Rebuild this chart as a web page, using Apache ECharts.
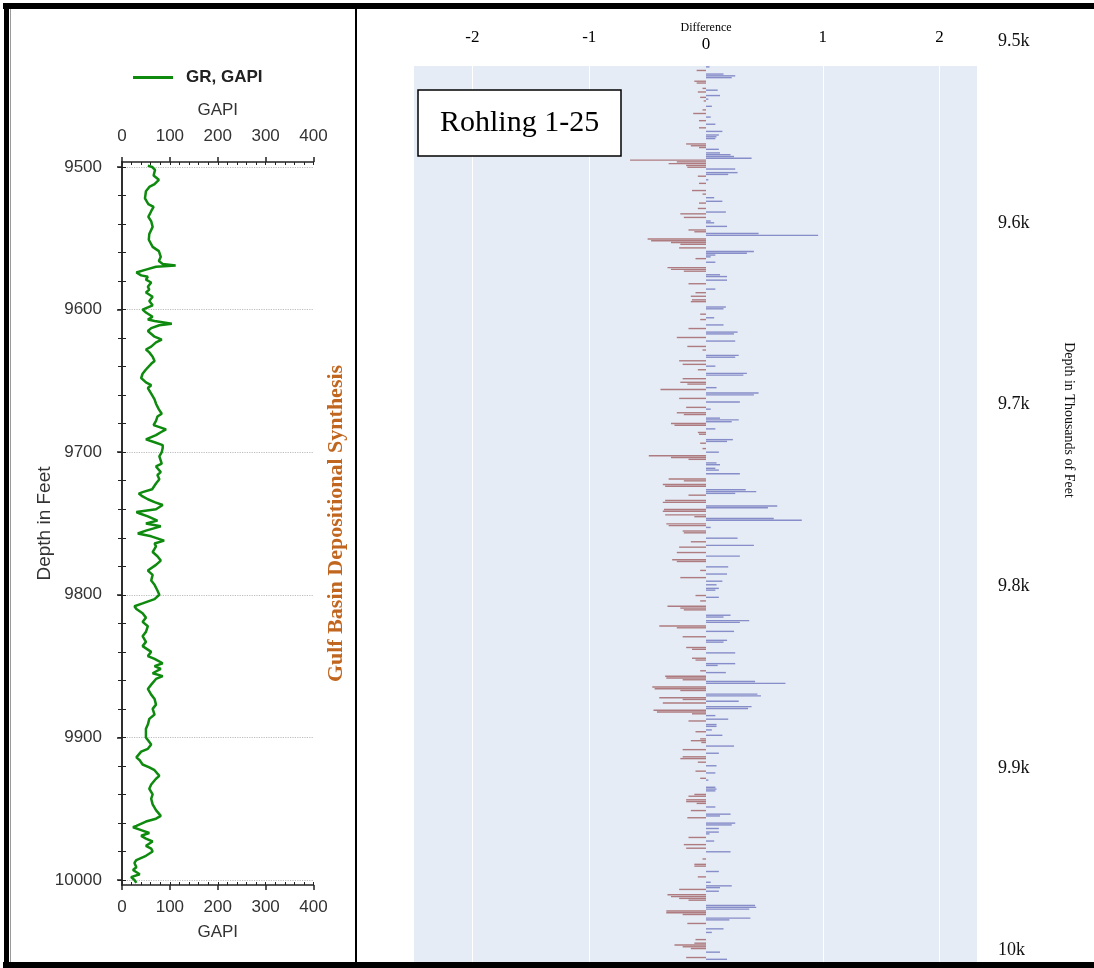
<!DOCTYPE html>
<html><head><meta charset="utf-8">
<script src="https://cdn.jsdelivr.net/npm/echarts@6/dist/echarts.min.js"></script>
<style>html,body{margin:0;padding:0;background:#fff}#c{width:1094px;height:968px}</style>
</head><body><div id="c"></div>
<script>
// ---------- GR log (left panel) ----------
const grDepth = [
 9499,9500,9502,9506,9509,9512,9514,9517,9522,9526,
 9528,9531,9535,9538,9542,9547,9551,9556,9559,9563,
 9566,9568,9569,9570,9572,9574,9576,9577,9579,9581,
 9584,9586,9588,9591,9594,9597,9600,9602,9605,9607,
 9608,9610,9611,9613,9615,9616,9619,9621,9623,9626,
 9628,9630,9633,9636,9638,9642,9645,9648,9651,9653,
 9655,9659,9663,9666,9670,9673,9675,9678,9681,9684,
 9686,9688,9691,9693,9695,9697,9700,9703,9708,9710,
 9714,9716,9719,9722,9726,9728,9729,9731,9733,9735,
 9737,9740,9742,9743,9745,9748,9750,9752,9755,9757,
 9759,9762,9764,9766,9770,9773,9776,9779,9783,9786,
 9790,9793,9797,9800,9803,9806,9808,9810,9813,9816,
 9819,9822,9826,9829,9833,9836,9840,9843,9845,9848,
 9850,9852,9855,9857,9859,9863,9866,9870,9873,9877,
 9880,9884,9887,9891,9894,9898,9900,9905,9908,9910,
 9914,9916,9919,9921,9923,9927,9929,9933,9936,9940,
 9943,9947,9951,9955,9957,9959,9962,9963,9965,9967,
 9969,9971,9973,9976,9978,9980,9983,9986,9988,9991,
 9993,9996,9998,10000,10002];
const grValue = [
 54,63,69,66,77,68,57,50,48,55,
 66,61,55,61,64,57,56,64,77,81,
 77,85,112,71,50,30,40,54,50,61,
 54,57,50,64,57,64,43,50,64,54,
 68,104,78,61,54,50,68,83,71,61,
 50,57,64,68,61,50,43,40,50,61,
 54,61,68,71,77,83,74,71,66,92,
 81,71,50,68,85,85,83,78,83,71,
 81,74,78,71,63,43,35,43,54,68,
 85,71,30,37,54,74,50,81,50,33,
 61,88,68,71,64,74,81,71,54,64,
 61,68,74,78,68,43,26,30,43,50,
 43,54,50,43,50,43,61,54,68,85,
 68,81,64,85,71,61,54,61,68,71,
 64,68,57,54,50,50,50,61,54,40,
 30,37,43,57,68,78,71,61,57,64,
 61,64,71,81,71,50,30,23,40,57,
 40,50,64,50,61,64,50,30,26,30,
 23,37,19,26,30];
const depthTicks = [9500, 9600, 9700, 9800, 9900, 10000];
const gapiTicks = [0, 100, 200, 300, 400];

// ---------- Difference bars (right panel) ----------
const barDepth = [
 9500,9502,9504,9505,9506,9508,9509,9512,9513,9514,
 9516,9517,9518,9519,9522,9524,9526,9528,9530,9532,
 9534,9536,9538,9539,9540,9543,9544,9545,9546,9548,
 9549,9550,9551,9552,9553,9554,9555,9556,9557,9559,
 9560,9561,9563,9565,9569,9571,9573,9575,9576,9579,
 9581,9582,9584,9586,9587,9589,9591,9592,9593,9594,
 9596,9597,9598,9599,9601,9603,9604,9605,9606,9607,
 9609,9612,9613,9614,9616,9617,9619,9621,9624,9626,
 9628,9630,9631,9634,9635,9638,9640,9641,9644,9646,
 9648,9649,9651,9653,9656,9658,9661,9662,9664,9666,
 9667,9669,9671,9672,9674,9676,9677,9679,9680,9682,
 9683,9685,9687,9690,9691,9693,9694,9696,9697,9698,
 9699,9700,9702,9704,9705,9708,9709,9710,9713,9715,
 9717,9718,9719,9721,9722,9724,9725,9727,9730,9731,
 9733,9734,9736,9737,9738,9739,9742,9743,9745,9746,
 9747,9748,9750,9751,9752,9753,9755,9756,9757,9759,
 9760,9763,9765,9767,9768,9771,9773,9775,9776,9779,
 9781,9783,9785,9787,9789,9791,9792,9795,9796,9798,
 9801,9802,9803,9806,9807,9809,9810,9812,9813,9815,
 9818,9820,9821,9824,9825,9827,9830,9831,9833,9834,
 9837,9838,9840,9841,9842,9843,9844,9846,9847,9848,
 9850,9851,9852,9853,9854,9855,9857,9858,9859,9860,
 9861,9862,9864,9865,9867,9868,9870,9871,9873,9875,
 9876,9877,9879,9881,9883,9885,9886,9888,9890,9893,
 9894,9897,9898,9902,9903,9904,9906,9907,9909,9910,
 9911,9913,9915,9917,9918,9919,9922,9923,9925,9927,
 9928,9930,9932,9934,9936,9938,9942,9945,9946,9949,
 9952,9955,9957,9958,9959,9960,9962,9963,9964,9965,
 9968,9969,9970,9971,9972,9973,9975,9976,9978,9981,
 9983,9987,9989,9990,9991,9992,9994,9997,9998];
const barDiff = [
 0.03,-0.08,0.15,0.25,0.22,-0.10,-0.08,-0.03,0.10,-0.07,
 0.12,-0.05,0.02,-0.02,0.05,-0.03,-0.11,0.04,-0.06,0.08,
 -0.06,0.14,0.11,0.09,0.08,-0.17,-0.13,-0.06,0.11,0.12,
 0.21,0.24,0.39,-0.65,-0.25,-0.32,-0.17,-0.16,0.25,0.27,
 0.19,-0.07,0.02,-0.06,-0.12,-0.03,0.07,0.14,-0.06,-0.07,
 0.17,-0.22,-0.19,0.04,0.07,0.18,-0.15,-0.10,0.45,0.96,
 -0.50,-0.47,-0.30,-0.22,-0.23,0.41,0.35,0.08,0.04,-0.09,
 0.08,-0.33,-0.30,-0.19,0.12,0.18,0.18,-0.15,0.08,-0.09,
 -0.13,-0.12,-0.13,0.17,0.15,-0.05,0.07,-0.05,0.15,-0.15,
 0.27,0.24,-0.25,0.25,-0.16,-0.03,0.28,0.25,-0.23,-0.20,
 0.08,-0.07,0.35,0.32,-0.20,-0.22,-0.16,0.09,-0.39,0.45,
 0.41,-0.23,0.29,-0.17,0.04,-0.25,-0.19,0.12,0.28,0.22,
 -0.30,-0.27,0.08,-0.07,-0.06,0.23,0.18,-0.05,-0.03,0.11,
 -0.49,-0.30,-0.15,0.09,0.12,0.08,0.11,0.29,-0.32,-0.19,
 -0.37,-0.35,0.34,0.43,0.25,-0.15,-0.35,-0.37,0.61,0.53,
 -0.36,-0.37,-0.35,-0.10,0.58,0.82,-0.34,-0.32,0.04,-0.20,
 -0.19,0.27,-0.13,0.41,-0.23,-0.25,0.29,-0.29,-0.25,0.19,
 -0.05,0.18,-0.22,0.14,0.09,0.11,0.08,-0.09,0.11,-0.05,
 -0.33,-0.22,-0.19,0.21,0.15,0.37,0.29,-0.40,-0.25,0.24,
 -0.20,0.18,0.15,-0.17,-0.12,0.25,-0.12,-0.09,0.25,0.10,
 -0.05,0.17,-0.35,-0.34,-0.20,0.42,0.68,-0.46,-0.44,-0.22,
 0.44,0.47,-0.40,-0.20,0.28,-0.37,0.39,0.36,-0.45,-0.42,
 -0.12,0.08,0.19,-0.15,0.09,0.09,0.05,-0.09,0.14,-0.05,
 -0.13,-0.04,0.24,-0.20,0.11,-0.20,-0.22,-0.07,0.09,-0.09,
 0.08,-0.05,0.02,0.08,0.09,0.08,-0.10,-0.15,-0.17,-0.17,
 -0.08,0.08,-0.13,0.21,0.12,-0.16,0.25,0.22,0.11,0.11,
 0.03,-0.15,0.07,-0.19,-0.17,0.21,-0.03,-0.10,-0.10,0.11,
 -0.07,0.04,0.22,0.12,-0.23,0.11,-0.33,-0.30,-0.23,-0.15,
 0.42,0.43,0.37,-0.34,-0.34,-0.20,0.38,0.20,-0.16,0.15,
 0.05,-0.09,-0.10,-0.27,-0.20,-0.13,0.12,-0.17,0.18];
const diffTicks = [-2, -1, 1, 2];
const diffZeroTick = [0];
const rightDepthTicks = [9500, 9600, 9700, 9800, 9900, 10000];

// ---------- derived structures ----------
const barCategories = [];
for (let d = 9500; d < 10000; d++) barCategories.push(String(d));
const barSeriesData = barCategories.map(() => null);
barDepth.forEach((d, i) => { barSeriesData[d - 9500] = barDiff[i]; });
const grData = grDepth.map((d, i) => [grValue[i], d]);
const minorDepthTicks = [];
for (let d = 9500; d <= 10000; d += 20) minorDepthTicks.push(d);

const SANS = '"Liberation Sans", Arial, Helvetica, sans-serif';
const SERIF = '"Liberation Serif", "Times New Roman", Times, serif';
const AX = '#222';
const LBL = '#333';

const chart = echarts.init(document.getElementById('c'), null, {renderer: 'canvas'});

const option = {
  animation: false,
  backgroundColor: '#ffffff',
  title: {
    text: 'Rohling 1-25',
    left: 418, top: 90,
    padding: [15, 22, 15, 22],
    backgroundColor: '#ffffff',
    borderColor: '#000', borderWidth: 1.5,
    textStyle: {fontFamily: SERIF, fontSize: 30, fontWeight: 'normal', color: '#000', lineHeight: 36}
  },
  legend: {
    data: [{name: 'GR, GAPI', icon: 'rect'}],
    left: 128, top: 64,
    itemWidth: 40, itemHeight: 3,
    selectedMode: false,
    textStyle: {fontFamily: SANS, fontSize: 17, fontWeight: 'bold', color: '#222', padding: [0, 0, 0, 8]}
  },
  grid: [
    {left: 122, right: 780.5, top: 162, bottom: 83, outerBoundsMode: 'none'},
    {left: 414, right: 117, top: 66, bottom: 6, show: true, backgroundColor: '#E5ECF6', borderWidth: 0, outerBoundsMode: 'none'},
    {left: 980, right: 104, top: 41, bottom: 18, outerBoundsMode: 'none'},
    {left: 980, right: 104, top: 66, height: 708, outerBoundsMode: 'none'}
  ],
  xAxis: [
    { // 0 top main
      gridIndex: 0, type: 'value', position: 'top', min: 0, max: 400, interval: 100,
      axisLine: {show: true, lineStyle: {color: AX, width: 1.5}},
      axisTick: {show: true, inside: false, length: 5, lineStyle: {color: AX, width: 1.5}},
      axisLabel: {margin: 17, fontFamily: SANS, fontSize: 17, color: LBL},
      splitLine: {show: false},
      name: 'GAPI', nameLocation: 'middle', nameGap: 43, nameMoveOverlap: false,
      nameTextStyle: {fontFamily: SANS, fontSize: 17, color: LBL}
    },
    { // 1 top minor
      gridIndex: 0, type: 'value', position: 'top', min: 0, max: 400, interval: 20,
      axisLine: {show: false}, axisTick: {show: true, inside: true, length: 3, lineStyle: {color: AX}},
      axisLabel: {show: false}, splitLine: {show: false}
    },
    { // 2 bottom main
      gridIndex: 0, type: 'value', position: 'bottom', min: 0, max: 400, interval: 100,
      axisLine: {show: true, lineStyle: {color: AX, width: 1.5}},
      axisTick: {show: true, inside: false, length: 5, lineStyle: {color: AX, width: 1.5}},
      axisLabel: {margin: 14, fontFamily: SANS, fontSize: 17, color: LBL},
      splitLine: {show: false},
      name: 'GAPI', nameLocation: 'middle', nameGap: 39, nameMoveOverlap: false,
      nameTextStyle: {fontFamily: SANS, fontSize: 17, color: LBL}
    },
    { // 3 bottom minor
      gridIndex: 0, type: 'value', position: 'bottom', min: 0, max: 400, interval: 20,
      axisLine: {show: false}, axisTick: {show: true, inside: true, length: 3, lineStyle: {color: AX}},
      axisLabel: {show: false}, splitLine: {show: false}
    },
    { // 4 difference axis (bars)
      gridIndex: 1, type: 'value', position: 'top', min: -2.5, max: 2.32,
      axisLine: {show: false}, axisTick: {show: false, customValues: diffTicks},
      axisLabel: {customValues: diffTicks, margin: 18, fontFamily: SERIF, fontSize: 17, lineHeight: 20, color: '#000'},
      splitLine: {show: true, lineStyle: {color: '#ffffff', width: 1}}
    },
    { // 5 zero label with title
      gridIndex: 1, type: 'value', position: 'top', min: -2.5, max: 2.32,
      axisLine: {show: false}, axisTick: {show: false, customValues: diffZeroTick},
      axisLabel: {
        customValues: diffZeroTick, margin: 11,
        formatter: () => '{d|Difference}\n{z|0}',
        rich: {
          d: {fontFamily: SERIF, fontSize: 12, lineHeight: 14, color: '#000'},
          z: {fontFamily: SERIF, fontSize: 17, lineHeight: 20, color: '#000'}
        }
      },
      splitLine: {show: false}
    },
    {gridIndex: 2, type: 'value', show: false},
    {gridIndex: 3, type: 'value', show: false}
  ],
  yAxis: [
    { // 0 left main
      gridIndex: 0, type: 'value', inverse: true, min: 9496.5, max: 10003.5, position: 'left',
      axisLine: {show: true, lineStyle: {color: AX, width: 1.5}},
      axisTick: {show: true, inside: false, length: 5, customValues: depthTicks, lineStyle: {color: AX, width: 1.5}},
      axisLabel: {customValues: depthTicks, margin: 20, fontFamily: SANS, fontSize: 17, color: LBL, formatter: v => String(v)},
      splitLine: {show: true, lineStyle: {color: '#bdbdbd', type: 'dotted', width: 1.2}},
      name: 'Depth in Feet', nameLocation: 'middle', nameRotate: 90, nameGap: 68, nameMoveOverlap: false,
      nameTextStyle: {fontFamily: SANS, fontSize: 19, color: LBL}
    },
    { // 1 left minor ticks
      gridIndex: 0, type: 'value', inverse: true, min: 9496.5, max: 10003.5, position: 'left',
      axisLine: {show: false},
      axisTick: {show: true, inside: true, length: 4, customValues: minorDepthTicks, lineStyle: {color: AX}},
      axisLabel: {show: false}, splitLine: {show: false}
    },
    { // 2 right frame + side title
      gridIndex: 0, type: 'value', inverse: true, min: 9496.5, max: 10003.5, position: 'right',
      axisLine: {show: true, lineStyle: {color: AX, width: 1.5}},
      axisTick: {show: true, inside: true, length: 4, customValues: minorDepthTicks, lineStyle: {color: AX}},
      axisLabel: {show: false}, splitLine: {show: false},
      name: 'Gulf Basin Depositional Synthesis', nameLocation: 'middle', nameRotate: 90, nameGap: 12, nameMoveOverlap: false,
      nameTextStyle: {fontFamily: SERIF, fontSize: 22, fontWeight: 'bold', color: '#c0661f'}
    },
    { // 3 bars depth categories
      gridIndex: 1, type: 'category', data: barCategories, inverse: true, show: false
    },
    { // 4 right depth labels
      gridIndex: 2, type: 'value', inverse: true, min: 9500, max: 10000, interval: 100, position: 'right',
      axisLine: {show: false}, axisTick: {show: false}, splitLine: {show: false},
      axisLabel: {margin: 8, fontFamily: SERIF, fontSize: 18, color: '#111', formatter: v => (v / 1000) + 'k'}
    },
    { // 5 right axis title
      gridIndex: 3, type: 'value', min: 0, max: 1, position: 'right',
      axisLine: {show: false}, axisTick: {show: false}, axisLabel: {show: false}, splitLine: {show: false},
      name: 'Depth in Thousands of Feet', nameLocation: 'middle', nameRotate: -90, nameGap: 72, nameMoveOverlap: false,
      nameTextStyle: {fontFamily: SERIF, fontSize: 14, color: '#111'}
    }
  ],
  series: [
    {
      name: 'GR, GAPI', type: 'line', xAxisIndex: 0, yAxisIndex: 0,
      data: grData, symbol: 'none', smooth: false,
      lineStyle: {color: '#0e8a0e', width: 2.5},
      itemStyle: {color: '#0e8a0e'}
    },
    {
      name: 'Difference', type: 'bar', xAxisIndex: 4, yAxisIndex: 3,
      data: barSeriesData, barWidth: 1.4,
      itemStyle: {color: p => (p.value < 0 ? 'rgba(145,65,65,0.65)' : 'rgba(85,90,175,0.65)')}
    }
  ],
  graphic: [
    {type: 'rect', z: 100, shape: {x: 3, y: 3, width: 1091, height: 6}, style: {fill: '#000'}},
    {type: 'rect', z: 100, shape: {x: 3, y: 962, width: 1091, height: 6}, style: {fill: '#000'}},
    {type: 'rect', z: 100, shape: {x: 4, y: 3, width: 5, height: 965}, style: {fill: '#000'}},
    {type: 'rect', z: 100, shape: {x: 10, y: 9, width: 1, height: 953}, style: {fill: '#9a9a9a'}},
    {type: 'rect', z: 100, shape: {x: 355, y: 9, width: 2, height: 953}, style: {fill: '#000'}}
  ]
};
chart.setOption(option);
</script>
</body></html>
